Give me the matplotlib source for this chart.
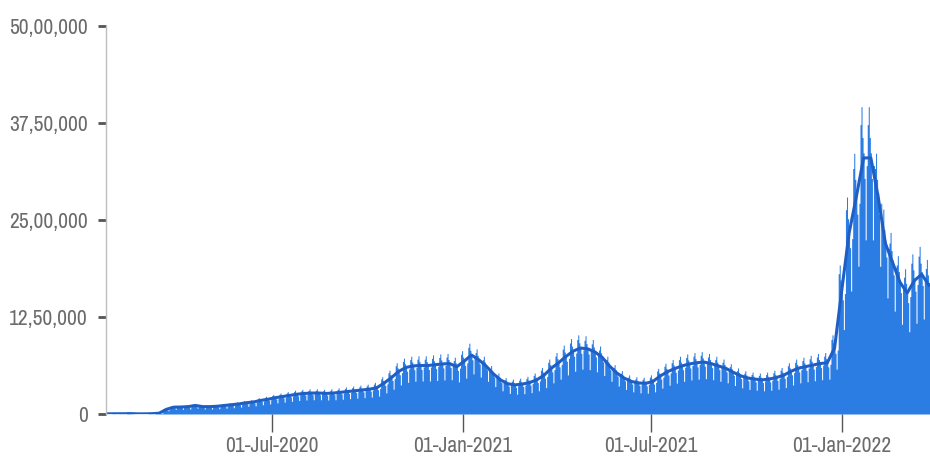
import numpy as np
import pandas as pd
import matplotlib
matplotlib.use('Agg')
import matplotlib.pyplot as plt
import matplotlib.dates as mdates
from matplotlib import font_manager
from matplotlib.font_manager import FontProperties
from matplotlib.ticker import FuncFormatter

# weekly 7-day average of new cases, weeks starting 22-Jan-2020
START = '2020-01-22'
weekly_avg = [
    2e3, 3e3, 3e3, 5e3, 2e3, 2e3, 4e3, 10e3, 60e3, 88e3,
    90e3, 95e3, 110e3, 95e3, 95e3, 100e3, 110e3, 120e3, 130e3, 145e3,
    155e3, 175e3, 190e3, 210e3, 225e3, 240e3, 255e3, 265e3, 270e3, 270e3,
    265e3, 270e3, 280e3, 290e3, 300e3, 310e3, 320e3, 340e3, 400e3, 470e3,
    550e3, 600e3, 620e3, 625e3, 625e3, 635e3, 645e3, 650e3, 610e3, 680e3,
    760e3, 700e3, 620e3, 520e3, 440e3, 390e3, 375e3, 385e3, 405e3, 440e3,
    500e3, 590e3, 660e3, 740e3, 810e3, 850e3, 840e3, 800e3, 730e3, 620e3,
    530e3, 465e3, 420e3, 400e3, 395e3, 420e3, 490e3, 545e3, 585e3, 620e3,
    645e3, 660e3, 670e3, 650e3, 620e3, 590e3, 540e3, 495e3, 465e3, 450e3,
    440e3, 450e3, 470e3, 500e3, 550e3, 590e3, 610e3, 630e3, 650e3, 660e3,
    850e3, 1.60e6, 2.33e6, 2.80e6, 3.30e6, 3.30e6, 2.80e6, 2.20e6, 1.95e6, 1.70e6,
    1.56e6, 1.72e6, 1.80e6, 1.66e6,
]
# day-of-week reporting pattern (relative to the weekly average)
weekday_factor = [1.13, 1.20, 1.08, 1.02, 0.92, 0.68, 0.97]

y_ticks = [0, 1250000, 2500000, 3750000, 5000000]
x_ticks = ['2020-07-01', '2021-01-01', '2021-07-01', '2022-01-01']

BAR_COLOR = '#2b7de3'
LINE_COLOR = '#1f5fc4'
TEXT_COLOR = '#6b6b6b'


def pick_label_font():
    # the original labels use a condensed face, take one if there is any
    files = [f.fname for f in font_manager.fontManager.ttflist]
    for key in ('narrow', 'condensed'):
        for fn in sorted(files):
            low = fn.lower()
            if key in low and not any(b in low for b in ('bold', 'oblique', 'italic', 'light', 'black', 'thin')):
                return FontProperties(fname=fn)
    return FontProperties(family='Roboto')


def indian_format(v, pos=None):
    n = int(round(v))
    if n == 0:
        return '0'
    s = str(n)
    last3 = s[-3:]
    rest = s[:-3]
    parts = []
    while len(rest) > 2:
        parts.insert(0, rest[-2:])
        rest = rest[:-2]
    if rest:
        parts.insert(0, rest)
    return ','.join(parts + [last3])


n_weeks = len(weekly_avg)
days = pd.date_range(START, periods=n_weeks * 7, freq='D')
daily = np.array([w * f for w in weekly_avg for f in weekday_factor])
week_mid = pd.date_range(pd.Timestamp(START) + pd.Timedelta(days=3), periods=n_weeks, freq='7D')

fig = plt.figure(figsize=(9.3, 4.68), dpi=100)
ax = fig.add_axes([106 / 930, 54 / 468, 824 / 930, 388 / 468])

# size the label font so the widest label is about as wide as in the original
fp = pick_label_font()
renderer = fig.canvas.get_renderer()
fp.set_size(16)
probe = fig.text(0, 0, '50,00,000', fontproperties=fp)
w = probe.get_window_extent(renderer).width
probe.remove()
fp.set_size(min(16, 16 * 78 / w))

ax.fill_between(days, daily, step='mid', color=BAR_COLOR, linewidth=0)
ax.plot(week_mid, weekly_avg, color=LINE_COLOR, linewidth=2.2)

ax.set_ylim(0, 5000000)
ax.set_xlim(pd.Timestamp('2020-01-22 19:00'), pd.Timestamp('2022-03-27'))

ax.set_yticks(y_ticks)
ax.yaxis.set_major_formatter(FuncFormatter(indian_format))
ax.set_xticks([pd.Timestamp(t) for t in x_ticks])
ax.xaxis.set_major_formatter(mdates.DateFormatter('%d-%b-%Y'))

for s in ['top', 'right', 'bottom']:
    ax.spines[s].set_visible(False)
ax.spines['left'].set_color('#bdbdbd')
ax.spines['left'].set_linewidth(1)

ax.tick_params(axis='y', length=6, width=2, color='#555555', pad=7, labelcolor=TEXT_COLOR)
ax.tick_params(axis='x', length=13, width=1, color='#555555', pad=3, labelcolor=TEXT_COLOR)
for lab in ax.get_xticklabels() + ax.get_yticklabels():
    lab.set_fontproperties(fp)

fig.savefig('out.png', dpi=100)
